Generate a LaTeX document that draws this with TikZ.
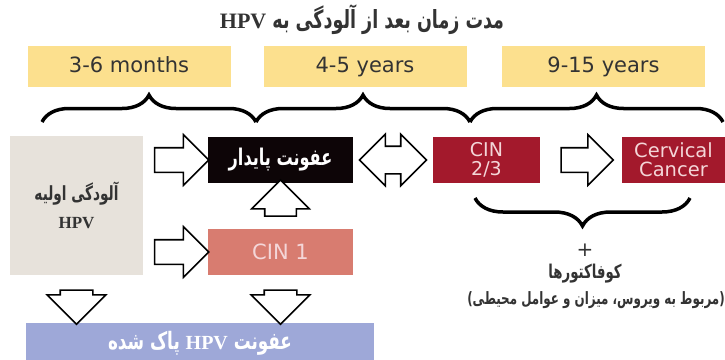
\documentclass[tikz,border=0pt]{standalone}
\usepackage{fontspec}
\setmainfont{DejaVu Sans}
\newfontfamily\farsi[Script=Arabic,FakeStretch=0.7]{DejaVu Sans}
\newfontfamily\hpvserif{Liberation Serif}
\TeXXeTstate=1
\usetikzlibrary{shapes.arrows,decorations.pathreplacing,calc}
\definecolor{periodyellow}{HTML}{FCE08E}
\definecolor{primarygray}{HTML}{E7E2DB}
\definecolor{persistblack}{HTML}{0D0507}
\definecolor{cinred}{HTML}{A3192C}
\definecolor{cinsalmon}{HTML}{D87C70}
\definecolor{clearedblue}{HTML}{9EA8D8}
\definecolor{textgray}{HTML}{333333}
\definecolor{cintext}{HTML}{F4D6D8}
\begin{document}
\begin{tikzpicture}[x=1pt,y=-1pt]
\tikzset{period/.style = {fill=periodyellow,minimum width=203pt,minimum height=41pt,inner sep=0pt,text height=15pt,text depth=4pt,text=textgray,font=\fontsize{21}{24}\selectfont}}
\tikzset{stage/.style = {minimum width=145pt,minimum height=46pt,inner sep=0pt}}
\tikzset{openarrow/.style = {single arrow,draw=black,fill=white,line width=1.6pt,inner xsep=0pt,inner ysep=11.5pt,single arrow head extend=13pt,minimum height=54pt}}
\tikzset{bigbrace/.style = {decorate,decoration={brace,amplitude=27pt},line width=3.5pt}}
\useasboundingbox (0,0) rectangle (725,359);
% title and time periods
\node[text=textgray,font=\fontsize{25}{27}\selectfont\bfseries] (title) at (362,20) {\farsi\beginR مدت زمان بعد از آلودگی به \beginL{\hpvserif\fontsize{22}{24}\selectfont HPV}\endL\endR};
\node[period] (months) at (129,66.5) {3-6 months};
\node[period] (fouryears) at (365,66.5) {4-5 years};
\node[period] (nineyears) at (603.5,66.5) {9-15 years};
\draw[bigbrace] (42,122) -- (256,122);
\draw[bigbrace] (256,122) -- (470,122);
\draw[bigbrace] (470,122) -- (723,122);
% stages
\node[fill=primarygray,minimum width=133pt,minimum height=139pt,inner sep=0pt,align=center,text=textgray,font=\fontsize{19.5}{22}\selectfont\bfseries] (primary) at (76.5,205.5) {\farsi\beginR آلودگی اولیه\endR\\[6pt]{\hpvserif\fontsize{17}{20}\selectfont HPV}};
\node[stage,fill=persistblack,text=white,font=\fontsize{23}{25}\selectfont\bfseries] (persist) at (280.5,160) {\farsi\beginR عفونت پایدار\endR};
\node[stage,fill=cinsalmon,text=cintext,font=\fontsize{21}{24}\selectfont] (cinone) at (280.5,252) {CIN 1};
\node[stage,minimum width=107pt,fill=cinred,text=cintext,align=center,font=\fontsize{19}{19}\selectfont] (cintwo) at (486.5,160) {CIN\\2/3};
\node[stage,minimum width=103pt,fill=cinred,text=cintext,align=center,font=\fontsize{19.5}{19}\selectfont] (cancer) at (673.5,160) {Cervical\\Cancer};
\node[fill=clearedblue,minimum width=348pt,minimum height=40pt,inner sep=0pt,text=white,font=\fontsize{24}{26}\selectfont\bfseries] (cleared) at (200,343) {\farsi\beginR عفونت \beginL{\hpvserif\fontsize{20}{22}\selectfont HPV}\endL{} پاک شده\endR};
% open arrows between stages
\node[openarrow] (topersist) at ($(primary.east |- persist)!0.5!(persist.west)$) {};
\node[openarrow] (tocinone) at ($(primary.east |- cinone)!0.5!(cinone.west)$) {};
\node[openarrow,rotate=90,minimum height=36pt,inner ysep=15pt] (cinup) at ($(cinone.north)!0.5!(persist.south)$) {};
\node[openarrow,rotate=-90,minimum height=34pt,inner ysep=15.5pt] (primarydown) at ($(primary.south)!0.5!(primary.south |- cleared.north)$) {};
\node[openarrow,rotate=-90,minimum height=34pt,inner ysep=15.5pt] (cinonedown) at ($(cinone.south)!0.5!(cinone.south |- cleared.north)$) {};
\node[double arrow,draw=black,fill=white,line width=1.6pt,inner xsep=0pt,inner ysep=13pt,double arrow head extend=12pt,minimum height=67pt] (bothways) at ($(persist.east)!0.5!(cintwo.west)$) {};
\node[openarrow,minimum height=52pt] (tocancer) at ($(cintwo.east)!0.5!(cancer.west)$) {};
% cofactors below
\draw[bigbrace,decoration={amplitude=28pt}] (690,198) -- (475,198);
\node[text=textgray,font=\fontsize{20}{22}\selectfont] (plus) at (585,250) {+};
\node[text=textgray,font=\fontsize{19}{21}\selectfont\bfseries] (cofactors) at (585,274) {\farsi\beginR کوفاکتورها\endR};
\node[text=textgray,font=\fontsize{17}{20}\selectfont\bfseries] (cofactordetail) at (596,300) {\farsi\beginR(مربوط به ویروس، میزان و عوامل محیطی)\endR};
\end{tikzpicture}
\end{document}
